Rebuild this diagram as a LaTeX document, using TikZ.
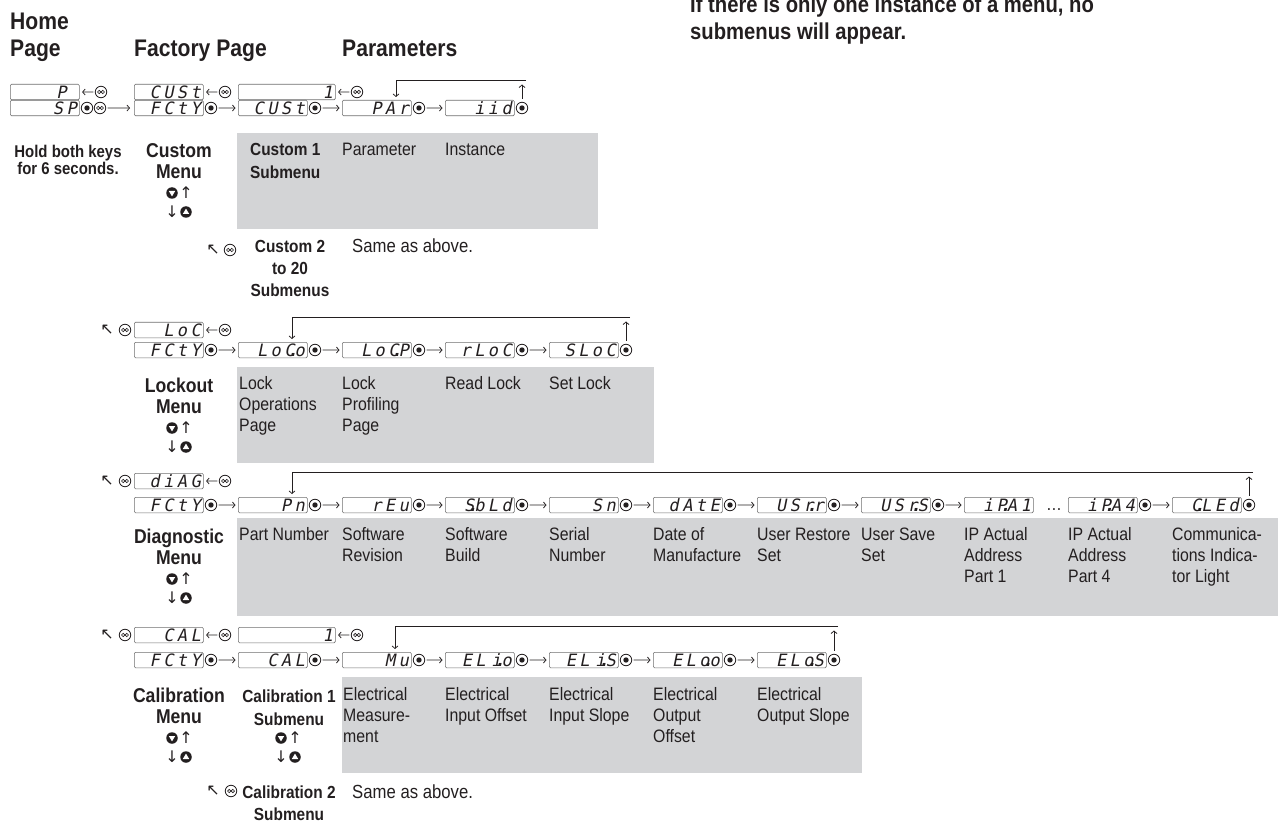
\documentclass[tikz,border=0pt]{standalone}
\usepackage{fontspec}
\setmainfont{Liberation Sans}[FakeStretch=0.88]
\newfontfamily\segfont{DejaVu Sans Mono}[FakeSlant=0.2, LetterSpace=20]
\newfontfamily\symfont{DejaVu Sans}
\usetikzlibrary{arrows.meta, positioning}
\definecolor{panel}{RGB}{211,212,214}
\definecolor{ink}{RGB}{35,31,32}
\definecolor{rim}{RGB}{110,110,110}
\newcommand\segdp{\kern-1.8pt\makebox[0pt]{\bfseries.}\kern1.8pt}

\begin{document}
\begin{tikzpicture}[
    x=1pt, y=-1pt,
    every node/.style={text=ink},
    % Styles
    disp/.style = {draw=rim, line width=0.6pt, rounded corners=1.2pt, anchor=north west, minimum height=15.5pt, text width=64pt, text height=12pt, text depth=0pt, inner xsep=2.5pt, inner ysep=0pt, align=right, font=\segfont\fontsize{17}{17}\selectfont},
    wide/.style = {disp, text width=92pt},
    key/.style = {circle, minimum size=11.5pt, inner sep=0pt, line width=0.8pt},
    adv_key/.style = {key, draw=ink, path picture={\fill[ink] (path picture bounding box.center) circle (2.7pt);}},
    inf_key/.style = {key, draw=ink, path picture={\draw[ink, line width=0.7pt] ([xshift=-1.8pt]path picture bounding box.center) circle (1.7pt) ([xshift=1.8pt]path picture bounding box.center) circle (1.7pt);}},
    down_key/.style = {key, fill=ink, path picture={\fill[white] ([shift={(-3.2pt,2pt)}]path picture bounding box.center) -- ([shift={(3.2pt,2pt)}]path picture bounding box.center) -- ([shift={(0pt,-3.4pt)}]path picture bounding box.center) -- cycle;}},
    up_key/.style = {key, fill=ink, path picture={\fill[white] ([shift={(-3.2pt,-2pt)}]path picture bounding box.center) -- ([shift={(3.2pt,-2pt)}]path picture bounding box.center) -- ([shift={(0pt,3.4pt)}]path picture bounding box.center) -- cycle;}},
    glyph/.style = {inner sep=0pt, font=\symfont\fontsize{16}{16}\selectfont},
    arrow/.style = {-{Straight Barb[length=2.6pt, width=6pt]}, line width=0.75pt, draw=ink, shorten <=1.5pt, shorten >=2.5pt},
    return_line/.style = {arrow, shorten <=0pt, shorten >=3pt},
    title/.style = {anchor=base west, align=left, inner sep=0pt, font=\bfseries\fontsize{24}{27}\selectfont},
    note/.style = {title, font=\bfseries\fontsize{23}{27}\selectfont},
    menu_label/.style = {anchor=base, align=center, inner sep=0pt, font=\bfseries\fontsize{20}{21}\selectfont},
    sub_label/.style = {anchor=base, align=center, inner sep=0pt, font=\bfseries\fontsize{17.5}{22}\selectfont},
    hold/.style = {sub_label, font=\bfseries\fontsize{17}{17}\selectfont},
    desc/.style = {anchor=base west, align=left, inner sep=0pt, font=\fontsize{18}{21}\selectfont}
]
\useasboundingbox (0,0) rectangle (1278,821);

% --- HEADINGS --- (multi-line nodes sit on their last line)
\node[title] (home_title) at (10,57) {Home\\Page};
\node[title] (factory_title) at (134,57) {Factory Page};
\node[title] (param_title) at (342,57) {Parameters};
\node[note] (note) at (690,40) {If there is only one instance of a menu, no\\submenus will appear.};

% --- 1. CUSTOM MENU ---
\fill[panel] (237,133) rectangle (598,229);

\node[disp] (home_p) at (10,84) {P\hphantom{0}};
\node[inf_key] (home_p_inf) at (101,92) {};
\draw[arrow] (home_p_inf) -- (home_p);
\node[disp] (cust_top) at (134,84) {CUSt};
\node[inf_key] (cust_top_inf) at (225,92) {};
\draw[arrow] (cust_top_inf) -- (cust_top);
\node[wide] (cust_one) at (238,84) {1};
\node[inf_key] (cust_one_inf) at (357,92) {};
\draw[arrow] (cust_one_inf) -- (cust_one);

\node[disp] (home_sp) at (10,100) {SP};
\node[adv_key] (home_sp_adv) at (87,108) {};
\node[inf_key] (home_sp_inf) at (100,108) {};
\node[disp] (cust_fcty) at (134,100) {FCtY};
\draw[arrow, shorten >=4pt] (home_sp_inf) -- (cust_fcty);
\node[adv_key] (cust_fcty_adv) at (211,108) {};
\node[disp] (cust_cust) at (238,100) {CUSt};
\draw[arrow] (cust_fcty_adv) -- (cust_cust);
\node[adv_key] (cust_cust_adv) at (315,108) {};
\node[disp] (cust_par) at (342,100) {PAr};
\draw[arrow] (cust_cust_adv) -- (cust_par);
\node[adv_key] (cust_par_adv) at (419,108) {};
\node[disp] (cust_iid) at (445,100) {iid};
\draw[arrow] (cust_par_adv) -- (cust_iid);
\node[adv_key] (cust_iid_adv) at (522,108) {};

\coordinate (cust_ret_r) at (526,80);
\coordinate (cust_ret_l) at (396,80);
\draw[arrow, shorten <=3pt, shorten >=4.5pt] (cust_iid_adv) -- (cust_iid_adv |- cust_ret_r);
\draw[return_line] (cust_ret_r) -- (cust_ret_l) -- (cust_ret_l |- cust_par.north);

\node[hold] (hold_keys) at (68,175) {Hold both keys\\for 6 seconds.};
\node[menu_label] (cust_menu) at (179,179) {Custom\\Menu};
\node[down_key] (cust_dk) at (172,193) {};
\node[glyph] (cust_ua) at (186,193) {↑};
\node[glyph] (cust_da) at (172,212) {↓};
\node[up_key] (cust_uk) at (186,212) {};

\node[sub_label, anchor=base west, align=left, font=\bfseries\fontsize{17.5}{23}\selectfont] (cust_sub1) at (250,179) {Custom 1\\Submenu};
\node[desc] (d_param) at (342,156) {Parameter};
\node[desc] (d_inst) at (445,156) {Instance};

\node[glyph] (cust2_back) at (213,250) {↖};
\node[inf_key] (cust2_inf) at (230,250) {};
\node[sub_label] (cust_sub2) at (290,297) {Custom 2\\to 20\\Submenus};
\node[desc, font=\fontsize{19}{21}\selectfont] (cust_same) at (352,253) {Same as above.};

% --- 2. LOCKOUT MENU ---
\fill[panel] (237,367) rectangle (654,463);

\node[glyph] (lock_back) at (107,330) {↖};
\node[inf_key] (lock_back_inf) at (125,330) {};
\node[disp] (lock_top) at (134,322) {LoC};
\node[inf_key] (lock_top_inf) at (225,330) {};
\draw[arrow] (lock_top_inf) -- (lock_top);

\node[disp] (lock_fcty) at (134,342) {FCtY};
\node[adv_key] (lock_fcty_adv) at (211,350) {};
\node[disp] (lock_oper) at (238,342) {LoC\segdp o};
\draw[arrow] (lock_fcty_adv) -- (lock_oper);
\node[adv_key] (lock_oper_adv) at (315,350) {};
\node[disp] (lock_prof) at (342,342) {LoC\segdp P};
\draw[arrow] (lock_oper_adv) -- (lock_prof);
\node[adv_key] (lock_prof_adv) at (419,350) {};
\node[disp] (lock_read) at (445,342) {rLoC};
\draw[arrow] (lock_prof_adv) -- (lock_read);
\node[adv_key] (lock_read_adv) at (522,350) {};
\node[disp] (lock_set) at (549,342) {SLoC};
\draw[arrow] (lock_read_adv) -- (lock_set);
\node[adv_key] (lock_set_adv) at (626,350) {};

\coordinate (lock_ret_r) at (630,317);
\coordinate (lock_ret_l) at (292,317);
\draw[arrow, shorten <=3pt, shorten >=4.5pt] (lock_set_adv) -- (lock_set_adv |- lock_ret_r);
\draw[return_line] (lock_ret_r) -- (lock_ret_l) -- (lock_ret_l |- lock_oper.north);

\node[menu_label] (lock_menu) at (179,413) {Lockout\\Menu};
\node[down_key] (lock_dk) at (172,428) {};
\node[glyph] (lock_ua) at (186,428) {↑};
\node[glyph] (lock_da) at (172,447) {↓};
\node[up_key] (lock_uk) at (186,447) {};

\node[desc] (d_loco) at (239,431) {Lock\\Operations\\Page};
\node[desc] (d_locp) at (342,431) {Lock\\Profiling\\Page};
\node[desc] (d_rloc) at (445,389) {Read Lock};
\node[desc] (d_sloc) at (549,389) {Set Lock};

% --- 3. DIAGNOSTIC MENU ---
\fill[panel] (237,518) rectangle (1278,616);

\node[glyph] (diag_back) at (107,481) {↖};
\node[inf_key] (diag_back_inf) at (125,481) {};
\node[disp] (diag_top) at (134,473) {diAG};
\node[inf_key] (diag_top_inf) at (225,481) {};
\draw[arrow] (diag_top_inf) -- (diag_top);

\node[disp] (diag_fcty) at (134,497) {FCtY};
\node[adv_key] (diag_fcty_adv) at (211,505) {};
\node[disp] (diag_pn) at (238,497) {Pn};
\draw[arrow] (diag_fcty_adv) -- (diag_pn);
\node[adv_key] (diag_pn_adv) at (315,505) {};
\node[disp] (diag_rev) at (342,497) {rEu};
\draw[arrow] (diag_pn_adv) -- (diag_rev);
\node[adv_key] (diag_rev_adv) at (419,505) {};
\node[disp] (diag_bld) at (445,497) {S\segdp bLd};
\draw[arrow] (diag_rev_adv) -- (diag_bld);
\node[adv_key] (diag_bld_adv) at (522,505) {};
\node[disp] (diag_sn) at (549,497) {Sn};
\draw[arrow] (diag_bld_adv) -- (diag_sn);
\node[adv_key] (diag_sn_adv) at (626,505) {};
\node[disp] (diag_date) at (653,497) {dAtE};
\draw[arrow] (diag_sn_adv) -- (diag_date);
\node[adv_key] (diag_date_adv) at (730,505) {};
\node[disp] (diag_usrr) at (757,497) {USr\segdp r};
\draw[arrow] (diag_date_adv) -- (diag_usrr);
\node[adv_key] (diag_usrr_adv) at (834,505) {};
\node[disp] (diag_usrs) at (861,497) {USr\segdp S};
\draw[arrow] (diag_usrr_adv) -- (diag_usrs);
\node[adv_key] (diag_usrs_adv) at (938,505) {};
\node[disp] (diag_ip1) at (964,497) {iP\segdp A1};
\draw[arrow] (diag_usrs_adv) -- (diag_ip1);
\node[desc] (diag_dots) at (1046,510) {…};
\node[disp] (diag_ip4) at (1068,497) {iP\segdp A4};
\node[adv_key] (diag_ip4_adv) at (1145,505) {};
\node[disp] (diag_led) at (1172,497) {C\segdp LEd};
\draw[arrow] (diag_ip4_adv) -- (diag_led);
\node[adv_key] (diag_led_adv) at (1249,505) {};

\coordinate (diag_ret_r) at (1253,472);
\coordinate (diag_ret_l) at (292,472);
\draw[arrow, shorten <=3pt, shorten >=4.5pt] (diag_led_adv) -- (diag_led_adv |- diag_ret_r);
\draw[return_line] (diag_ret_r) -- (diag_ret_l) -- (diag_ret_l |- diag_pn.north);

\node[menu_label] (diag_menu) at (179,564) {Diagnostic\\Menu};
\node[down_key] (diag_dk) at (172,579) {};
\node[glyph] (diag_ua) at (186,579) {↑};
\node[glyph] (diag_da) at (172,598) {↓};
\node[up_key] (diag_uk) at (186,598) {};

\node[desc] (d_pn) at (239,540) {Part Number};
\node[desc] (d_rev) at (342,561) {Software\\Revision};
\node[desc] (d_bld) at (445,561) {Software\\Build};
\node[desc] (d_sn) at (549,561) {Serial\\Number};
\node[desc] (d_date) at (653,561) {Date of\\Manufacture};
\node[desc] (d_usrr) at (757,561) {User Restore\\Set};
\node[desc] (d_usrs) at (861,561) {User Save\\Set};
\node[desc] (d_ip1) at (964,582) {IP Actual\\Address\\Part 1};
\node[desc] (d_ip4) at (1068,582) {IP Actual\\Address\\Part 4};
\node[desc] (d_led) at (1172,582) {Communica-\\tions Indica-\\tor Light};

% --- 4. CALIBRATION MENU ---
\fill[panel] (342,677) rectangle (862,773);

\node[glyph] (cal_back) at (107,635) {↖};
\node[inf_key] (cal_back_inf) at (125,635) {};
\node[disp] (cal_top) at (134,627) {CAL};
\node[inf_key] (cal_top_inf) at (225,635) {};
\draw[arrow] (cal_top_inf) -- (cal_top);
\node[wide] (cal_one) at (238,627) {1};
\node[inf_key] (cal_one_inf) at (357,635) {};
\draw[arrow] (cal_one_inf) -- (cal_one);

\node[disp] (cal_fcty) at (134,652) {FCtY};
\node[adv_key] (cal_fcty_adv) at (211,660) {};
\node[disp] (cal_cal) at (238,652) {CAL};
\draw[arrow] (cal_fcty_adv) -- (cal_cal);
\node[adv_key] (cal_cal_adv) at (315,660) {};
\node[disp] (cal_mu) at (342,652) {Mu};
\draw[arrow] (cal_cal_adv) -- (cal_mu);
\node[adv_key] (cal_mu_adv) at (419,660) {};
\node[disp] (cal_eio) at (445,652) {EL i\segdp o};
\draw[arrow] (cal_mu_adv) -- (cal_eio);
\node[adv_key] (cal_eio_adv) at (522,660) {};
\node[disp] (cal_eis) at (549,652) {EL i\segdp S};
\draw[arrow] (cal_eio_adv) -- (cal_eis);
\node[adv_key] (cal_eis_adv) at (626,660) {};
\node[disp] (cal_eoo) at (653,652) {ELo\segdp o};
\draw[arrow] (cal_eis_adv) -- (cal_eoo);
\node[adv_key] (cal_eoo_adv) at (730,660) {};
\node[disp] (cal_eos) at (757,652) {ELo\segdp S};
\draw[arrow] (cal_eoo_adv) -- (cal_eos);
\node[adv_key] (cal_eos_adv) at (834,660) {};

\coordinate (cal_ret_r) at (838,626);
\coordinate (cal_ret_l) at (395,626);
\draw[arrow, shorten <=3pt, shorten >=4.5pt] (cal_eos_adv) -- (cal_eos_adv |- cal_ret_r);
\draw[return_line] (cal_ret_r) -- (cal_ret_l) -- (cal_ret_l |- cal_mu.north);

\node[menu_label] (cal_menu) at (179,723) {Calibration\\Menu};
\node[down_key] (cal_dk) at (172,738) {};
\node[glyph] (cal_ua) at (186,738) {↑};
\node[glyph] (cal_da) at (172,757) {↓};
\node[up_key] (cal_uk) at (186,757) {};

\node[sub_label, font=\bfseries\fontsize{17.5}{23}\selectfont] (cal_sub1) at (289,725) {Calibration 1\\Submenu};
\node[down_key] (cal1_dk) at (281,738) {};
\node[glyph] (cal1_ua) at (295,738) {↑};
\node[glyph] (cal1_da) at (281,757) {↓};
\node[up_key] (cal1_uk) at (295,757) {};

\node[desc] (d_mu) at (343,742) {Electrical\\Measure-\\ment};
\node[desc] (d_eio) at (445,721) {Electrical\\Input Offset};
\node[desc] (d_eis) at (549,721) {Electrical\\Input Slope};
\node[desc] (d_eoo) at (653,742) {Electrical\\Output\\Offset};
\node[desc] (d_eos) at (757,721) {Electrical\\Output Slope};

\node[glyph] (cal2_back) at (213,791) {↖};
\node[inf_key] (cal2_inf) at (231,791) {};
\node[sub_label] (cal_sub2) at (289,820) {Calibration 2\\Submenu};
\node[desc, font=\fontsize{19}{21}\selectfont] (cal_same) at (352,798) {Same as above.};

\end{tikzpicture}
\end{document}
